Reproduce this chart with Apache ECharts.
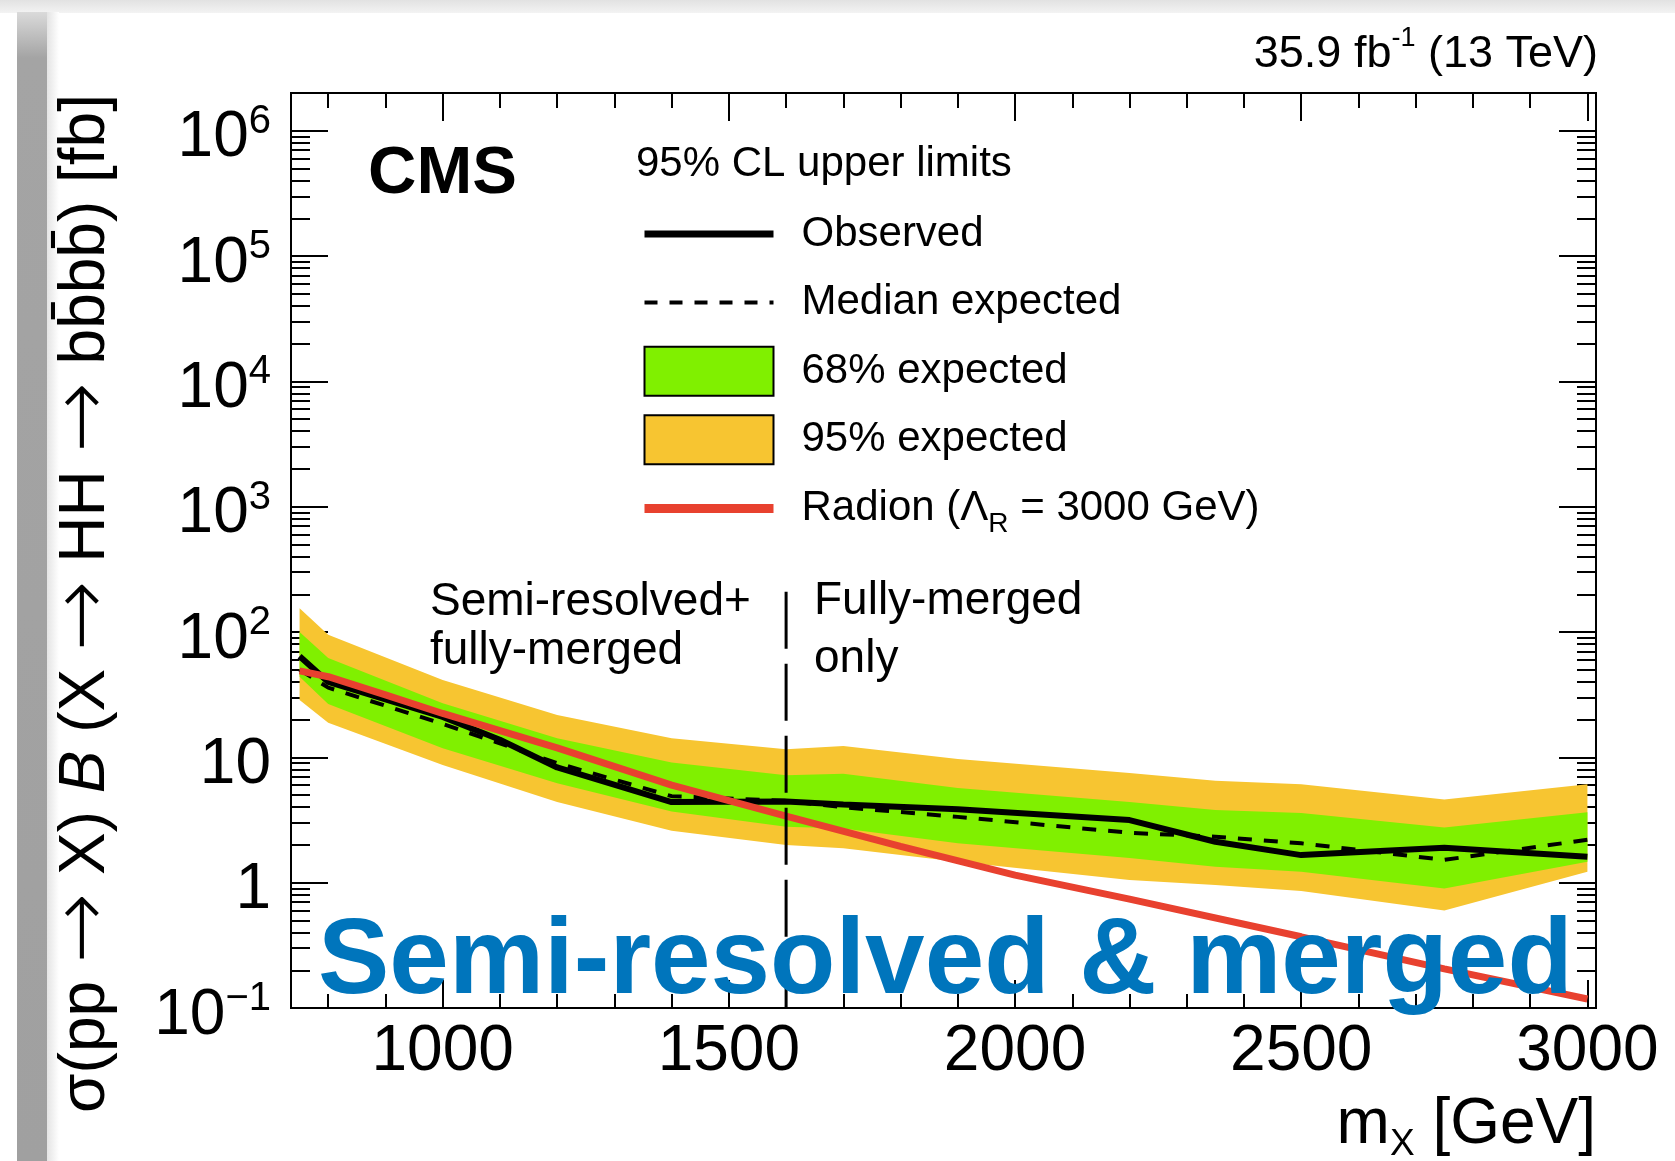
<!DOCTYPE html>
<html><head><meta charset="utf-8">
<script src="https://cdn.jsdelivr.net/npm/echarts@6/dist/echarts.min.js"></script>
<style>html,body{margin:0;padding:0;background:#fff}#c{width:1675px;height:1161px}</style>
</head><body><div id="c"></div>
<script>
// ---------- data ----------
const massExp   = [750, 800, 1000, 1200, 1400, 1600, 1700, 1900, 2200, 2350, 2500, 2750, 3000];
const exp95Up   = [155, 95, 41.5, 21.8, 14.2, 11.6, 12.3, 9.7, 7.5, 6.5, 6.1, 4.6, 6.1];
const exp68Up   = [100, 62, 27, 14.2, 9.1, 7.2, 7.4, 5.7, 4.4, 3.8, 3.6, 2.75, 3.65];
const exp68Lo   = [44, 26.7, 11.8, 6.2, 3.7, 2.8, 2.7, 2.06, 1.57, 1.34, 1.22, 0.9, 1.47];
const exp95Lo   = [28.7, 18.9, 8.7, 4.4, 2.6, 2.0, 1.88, 1.47, 1.05, 0.96, 0.86, 0.6, 1.22];
const expMedian = [50, 36, 18.5, 9.0, 4.9, 4.5, 4.0, 3.35, 2.5, 2.33, 2.06, 1.52, 2.2];

const massObs   = [750, 800, 900, 1000, 1100, 1200, 1400, 1600, 1700, 1900, 2200, 2350, 2500, 2750, 3000];
const observed  = [64, 40, 29, 21, 13.8, 8.3, 4.4, 4.45, 4.2, 3.85, 3.16, 2.12, 1.66, 1.9, 1.61];

const massRad   = [750, 800, 900, 1000, 1200, 1400, 1600, 1800, 2000, 2200, 2500, 2750, 3000];
const radion    = [49, 44, 31.5, 22.4, 11.9, 6.0, 3.4, 1.95, 1.15, 0.74, 0.37, 0.205, 0.118];

const boundaryMass = [1600, 1600];
const boundaryVal  = [210, 0.1];

const xTickValues = [1000, 1500, 2000, 2500, 3000];
const yTickValues = [0.1, 1, 10, 100, 1000, 10000, 100000, 1000000];
const xRange = [735, 3015];
const yRange = [0.1, 2000000];

// ---------- helpers ----------
const FONT = '"Liberation Sans", Arial, Helvetica, sans-serif';
const ARROWFONT = '"DejaVu Sans", "Liberation Sans", sans-serif';
const pairs = (xs, ys) => xs.map((x, i) => [x, ys[i]]);
const xMinor = []; for (let m = 800; m <= 3000; m += 100) xMinor.push(m);
const yMinor = []; for (let e = -1; e <= 5; e++) for (let k = 2; k <= 9; k++) yMinor.push(k * Math.pow(10, e));

function band(name, color, up, lo) {
  return {
    type: 'custom', name: name, xAxisIndex: 0, yAxisIndex: 0, silent: true, z: 1,
    itemStyle: { color: color },
    data: massExp.map((m, i) => [m, lo[i], up[i]]),
    encode: { x: 0, y: [1, 2] },
    renderItem: function (params, api) {
      if (params.dataIndex !== 0) return null;
      const pts = [];
      for (let i = 0; i < massExp.length; i++) pts.push(api.coord([massExp[i], up[i]]));
      for (let i = massExp.length - 1; i >= 0; i--) pts.push(api.coord([massExp[i], lo[i]]));
      return { type: 'polygon', shape: { points: pts }, style: { fill: color, stroke: null } };
    }
  };
}

function xAx(pos, ticks, len, labels) {
  return {
    type: 'value', position: pos, min: xRange[0], max: xRange[1], gridIndex: 0,
    axisLine: { show: false, onZero: false }, splitLine: { show: false },
    axisTick: { show: true, inside: true, length: len, customValues: ticks, lineStyle: { color: '#000', width: 2 } },
    axisLabel: labels ? { show: true, customValues: xTickValues, margin: 12, color: '#000', fontSize: 64, fontFamily: FONT, formatter: v => String(v) } : { show: false }
  };
}
function yAx(pos, ticks, len, labels) {
  return {
    type: 'log', logBase: 10, position: pos, min: yRange[0], max: yRange[1], gridIndex: 0,
    axisLine: { show: false, onZero: false }, splitLine: { show: false }, minorTick: { show: false },
    axisTick: { show: true, inside: true, length: len, customValues: ticks, lineStyle: { color: '#000', width: 2 } },
    axisLabel: labels ? {
      show: true, customValues: yTickValues, margin: 20, color: '#000', padding: [16, 0, 0, 0],
      formatter: function (v) {
        const e = Math.round(Math.log10(v));
        if (e === 0) return '{b|1}';
        if (e === 1) return '{b|10}';
        return '{b|10}{s|' + (e < 0 ? '\u2212' + (-e) : e) + '}';
      },
      rich: {
        b: { fontSize: 64, fontFamily: FONT, color: '#000', lineHeight: 64 },
        s: { fontSize: 40, fontFamily: FONT, color: '#000', height: 30, verticalAlign: 'top' }
      }
    } : { show: false }
  };
}

function txt(x, y, text, size, opts) {
  opts = opts || {};
  return {
    type: 'text', x: x, y: y, rotation: opts.rotation || 0, z: opts.z || 50, silent: true,
    style: Object.assign({
      text: text, fontSize: size, fontFamily: FONT, fill: opts.color || '#000',
      fontWeight: opts.weight || 'normal',
      align: opts.align || 'left', textAlign: opts.align || 'left',
      verticalAlign: 'middle', textVerticalAlign: 'middle'
    }, opts.rich ? { rich: opts.rich } : {})
  };
}

const hideSym = { color: 'rgba(0,0,0,0)', borderWidth: 0, opacity: 0 };

const chart = echarts.init(document.getElementById('c'), null, { renderer: 'canvas' });
chart.setOption({
  backgroundColor: '#ffffff',
  animation: false,
  grid: { left: 291, top: 93, width: 1305, height: 915, show: true, borderColor: '#000', borderWidth: 2, backgroundColor: 'transparent', containLabel: false },
  xAxis: [
    xAx('bottom', xTickValues, 28, true),
    xAx('bottom', xMinor, 14, false),
    xAx('top', xTickValues, 28, false),
    xAx('top', xMinor, 15, false)
  ],
  yAxis: [
    yAx('left', yTickValues, 37, true),
    yAx('left', yMinor, 19, false),
    yAx('right', yTickValues, 37, false),
    yAx('right', yMinor, 19, false)
  ],
  legend: {
    left: 640, top: 208.5, padding: 0, orient: 'vertical', itemWidth: 129, itemHeight: 49, itemGap: 17.6,
    selectedMode: false,
    data: [
      { name: 'Observed', lineStyle: { width: 7, color: '#000' }, itemStyle: hideSym },
      { name: 'Median expected', lineStyle: { width: 4, color: '#000', type: [13, 12] }, itemStyle: hideSym },
      { name: '68% expected', icon: 'rect', itemStyle: { color: '#80f000', borderColor: '#000', borderWidth: 2 } },
      { name: '95% expected', icon: 'rect', itemStyle: { color: '#f7c531', borderColor: '#000', borderWidth: 2 } },
      { name: 'Radion', lineStyle: { width: 9, color: '#e8412f' }, itemStyle: hideSym }
    ],
    formatter: function (name) {
      if (name === 'Radion') return '{a|Radion (\u039b}{r|R}{a| = 3000 GeV)}';
      return '{a|' + name + '}';
    },
    textStyle: {
      fontFamily: FONT, fontSize: 42, color: '#000', padding: [0, 0, 0, 23], lineHeight: 51,
      rich: {
        a: { fontFamily: FONT, fontSize: 42, color: '#000', lineHeight: 51 },
        r: { fontFamily: FONT, fontSize: 28, color: '#000', height: 19, verticalAlign: 'bottom' }
      }
    }
  },
  series: [
    band('95% expected', '#f7c531', exp95Up, exp95Lo),
    band('68% expected', '#80f000', exp68Up, exp68Lo),
    { type: 'line', name: 'Median expected', data: pairs(massExp, expMedian), symbol: 'none', z: 2,
      itemStyle: { color: '#000' }, lineStyle: { color: '#000', width: 4, type: [14, 12] } },
    { type: 'line', name: 'Observed', data: pairs(massObs, observed), symbol: 'none', z: 3,
      itemStyle: { color: '#000' }, lineStyle: { color: '#000', width: 6 } },
    { type: 'line', name: 'Radion', data: pairs(massRad, radion), symbol: 'none', z: 4,
      itemStyle: { color: '#e8412f' }, lineStyle: { color: '#e8412f', width: 7 } },
    { type: 'line', name: 'boundary', data: pairs(boundaryMass, boundaryVal), symbol: 'none', z: 5, silent: true,
      itemStyle: { color: '#000' }, lineStyle: { color: '#000', width: 3, type: [57, 15] } }
  ],
  graphic: [
    { type: 'rect', z: -5, silent: true, shape: { x: 0, y: 0, width: 1675, height: 13 },
      style: { fill: { type: 'linear', x: 0, y: 0, x2: 0, y2: 1, colorStops: [{ offset: 0, color: '#e2e2e2' }, { offset: 1, color: '#f3f3f3' }] } } },
    { type: 'rect', z: -5, silent: true, shape: { x: 17, y: 12, width: 30, height: 1149 },
      style: { fill: { type: 'linear', x: 0, y: 0, x2: 0, y2: 1, colorStops: [{ offset: 0, color: '#dadada' }, { offset: 0.04, color: '#a4a4a4' }, { offset: 1, color: '#a0a0a0' }] } } },
    { type: 'rect', z: -5, silent: true, shape: { x: 47, y: 12, width: 12, height: 1149 },
      style: { fill: { type: 'linear', x: 0, y: 0, x2: 1, y2: 0, colorStops: [{ offset: 0, color: '#e4e4e4' }, { offset: 1, color: '#ffffff' }] } } },

    txt(368, 175, 'CMS', 67, { weight: 'bold' }),
    txt(1598, 55, '{a|35.9 fb}{s|-1}{a| (13 TeV)}', 45, { align: 'right', rich: {
      a: { fontFamily: FONT, fontSize: 45, color: '#000', lineHeight: 45 },
      s: { fontFamily: FONT, fontSize: 27, color: '#000', height: 12, verticalAlign: 'top' } } }),
    txt(636, 164, '95% CL upper limits', 42),
    txt(430, 602, 'Semi-resolved+', 46),
    txt(430, 651, 'fully-merged', 46),
    txt(814, 601, 'Fully-merged', 46),
    txt(814, 659, 'only', 46),
    txt(86, 94, '{t|\u03c3(pp }{r|\u2192}{t| X) }{i|B}{t| (X }{r|\u2192}{t| HH }{r|\u2192}{t| bb\u0304bb\u0304) [fb]}', 64, { align: 'right', rotation: Math.PI / 2, rich: {
      t: { fontFamily: FONT, fontSize: 64, color: '#000', lineHeight: 64 },
      r: { fontFamily: ARROWFONT, fontSize: 84, fontWeight: 200, color: '#000', lineHeight: 64 },
      i: { fontFamily: FONT, fontSize: 64, color: '#000', fontStyle: 'italic', lineHeight: 64 } } }),
    txt(1596, 1125, '{a|m}{s|X}{a| [GeV]}', 64, { align: 'right', rich: {
      a: { fontFamily: FONT, fontSize: 64, color: '#000', lineHeight: 64 },
      s: { fontFamily: FONT, fontSize: 37, color: '#000', height: 24, verticalAlign: 'bottom' } } }),
    txt(318, 963, 'Semi-resolved & merged', 107, { weight: 'bold', color: '#0075bc', z: 100 })
  ]
});
</script>
</body></html>
